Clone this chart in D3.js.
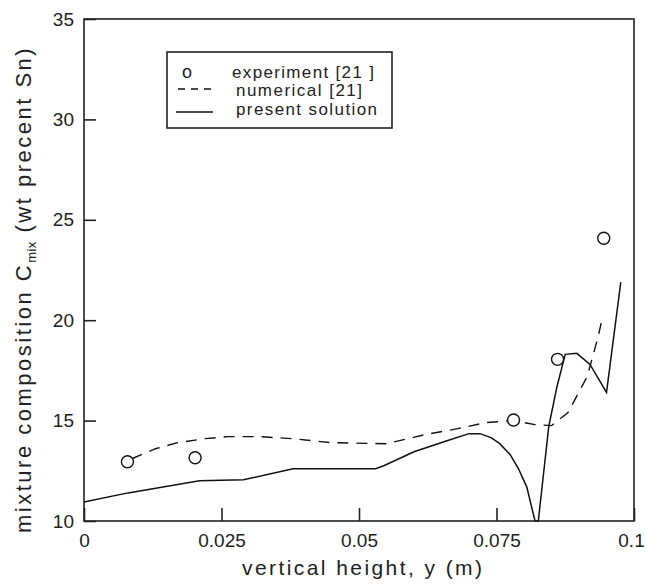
<!DOCTYPE html>
<html>
<head>
<meta charset="utf-8">
<script src="https://cdn.jsdelivr.net/npm/d3@7"></script>
<style>
  body { margin: 0; background: #fff; }
  text { font-family: "Liberation Sans", Arial, sans-serif; fill: #222; }
</style>
</head>
<body>
<div class="chart"></div>
<script>
// data
var experimentX = [0.0079, 0.0202, 0.0781, 0.0861, 0.0945];
var experimentC = [12.95, 13.15, 15.03, 18.05, 24.08];

var numericalX = [0.0087, 0.013, 0.017, 0.022, 0.026, 0.032, 0.038, 0.045, 0.055, 0.062, 0.068, 0.073, 0.078, 0.082, 0.085, 0.088, 0.0915, 0.0935, 0.0943];
var numericalC = [13.1, 13.6, 13.9, 14.1, 14.2, 14.2, 14.1, 13.9, 13.85, 14.3, 14.6, 14.9, 15.0, 14.8, 14.75, 15.4, 17.2, 19.2, 20.2];

var presentX = [0, 0.008, 0.021, 0.029, 0.038, 0.053, 0.0545, 0.06, 0.066, 0.07, 0.072, 0.074, 0.0756, 0.0775, 0.079, 0.0805, 0.082, 0.0826, 0.0845, 0.086, 0.0875, 0.0896, 0.092, 0.095, 0.0976];
var presentC = [10.95, 11.4, 12.0, 12.05, 12.6, 12.6, 12.75, 13.45, 14.0, 14.35, 14.35, 14.15, 13.85, 13.3, 12.6, 11.7, 10.0, 10.0, 14.7, 16.7, 18.3, 18.35, 17.8, 16.4, 21.9];

var xTicks = [0, 0.025, 0.05, 0.075, 0.1];
var xTickLabels = ["0", "0.025", "0.05", "0.075", "0.1"];
var yTicks = [10, 15, 20, 25, 30, 35];

var legendLabels = ["experiment [21 ]", "numerical [21]", "present solution"];

// svg container
var svgWidth = 646;
var svgHeight = 584;
var margin = { top: 19, right: 12, bottom: 63, left: 84 };
var width = svgWidth - margin.left - margin.right;
var height = svgHeight - margin.top - margin.bottom;

var svg = d3.select(".chart")
  .append("svg")
  .attr("width", svgWidth)
  .attr("height", svgHeight);

var chartGroup = svg.append("g")
  .attr("transform", `translate(${margin.left}, ${margin.top})`);

var xScale = d3.scaleLinear().domain([0, 0.1]).range([0, width]);
var yScale = d3.scaleLinear().domain([10, 35]).range([height, 0]);

// frame
chartGroup.append("rect")
  .attr("width", width)
  .attr("height", height)
  .attr("fill", "none")
  .attr("stroke", "#222")
  .attr("stroke-width", 1.6);

// axes with inward ticks
var bottomAxis = d3.axisBottom(xScale)
  .tickValues(xTicks)
  .tickFormat((d, i) => xTickLabels[i])
  .tickSizeInner(-13)
  .tickSizeOuter(0);

var leftAxis = d3.axisLeft(yScale)
  .tickValues(yTicks)
  .tickSizeInner(-12)
  .tickSizeOuter(0);

var xAxis = chartGroup.append("g")
  .attr("transform", `translate(0, ${height})`)
  .call(bottomAxis);

var yAxis = chartGroup.append("g")
  .call(leftAxis);

[xAxis, yAxis].forEach(function(ax) {
  ax.select(".domain").remove();
  ax.selectAll(".tick line").attr("stroke", "#222").attr("stroke-width", 1.6);
  ax.selectAll(".tick text")
    .style("font-family", "'Liberation Sans', Arial, sans-serif")
    .style("font-size", "19px")
    .attr("fill", "#222");
});
xAxis.selectAll(".tick text").attr("dy", "0.35em").attr("y", 19);
// last label sits at the very edge, nudge it in a little
xAxis.selectAll(".tick text").filter(d => d === 0.1).attr("x", -3);
yAxis.selectAll(".tick text").attr("x", -10);

// lines
var numericalData = numericalX.map((x, i) => [x, numericalC[i]]);
var presentData = presentX.map((x, i) => [x, presentC[i]]);

var line = d3.line()
  .x(d => xScale(d[0]))
  .y(d => yScale(d[1]));

chartGroup.append("path")
  .datum(numericalData)
  .attr("d", line)
  .attr("fill", "none")
  .attr("stroke", "#111")
  .attr("stroke-width", 1.4)
  .attr("stroke-dasharray", "11,8");

chartGroup.append("path")
  .datum(presentData)
  .attr("d", line)
  .attr("fill", "none")
  .attr("stroke", "#111")
  .attr("stroke-width", 1.5);

// experiment circles
chartGroup.selectAll("circle")
  .data(experimentX)
  .enter()
  .append("circle")
  .attr("cx", d => xScale(d))
  .attr("cy", (d, i) => yScale(experimentC[i]))
  .attr("r", 6)
  .attr("fill", "#fff")
  .attr("stroke", "#111")
  .attr("stroke-width", 1.4);

// legend
var legend = svg.append("g");
legend.append("rect")
  .attr("x", 167)
  .attr("y", 52)
  .attr("width", 225)
  .attr("height", 76)
  .attr("fill", "#fff")
  .attr("stroke", "#222")
  .attr("stroke-width", 1.6);

legend.append("text")
  .attr("x", 187)
  .attr("y", 78)
  .attr("text-anchor", "middle")
  .style("font-size", "18px")
  .text("o");

legend.append("line")
  .attr("x1", 178).attr("x2", 213)
  .attr("y1", 89).attr("y2", 89)
  .attr("stroke", "#111")
  .attr("stroke-width", 1.4)
  .attr("stroke-dasharray", "7,6");

legend.append("line")
  .attr("x1", 176).attr("x2", 213)
  .attr("y1", 112).attr("y2", 112)
  .attr("stroke", "#111")
  .attr("stroke-width", 1.5);

var legendX = [232, 236, 236];
var legendY = [78, 96, 115];
var legendW = [142, 126, 141];
legend.selectAll(".leg")
  .data(legendLabels)
  .enter()
  .append("text")
  .attr("class", "leg")
  .attr("x", (d, i) => legendX[i])
  .attr("y", (d, i) => legendY[i])
  .attr("textLength", (d, i) => legendW[i])
  .attr("lengthAdjust", "spacing")
  .style("font-size", "17px")
  .text(d => d);

// axis labels
svg.append("text")
  .attr("x", 242)
  .attr("y", 575)
  .attr("textLength", 240)
  .attr("lengthAdjust", "spacing")
  .style("font-size", "21px")
  .text("vertical height, y (m)");

var yLabel = svg.append("text")
  .attr("transform", "translate(31, 533) rotate(-90)")
  .attr("x", 0)
  .attr("y", 0)
  .style("font-size", "22px")
  .style("letter-spacing", "2.5px");
yLabel.append("tspan").text("mixture composition C");
yLabel.append("tspan").attr("dy", 5).style("font-size", "13px").style("letter-spacing", "0.5px").text("mix");
yLabel.append("tspan").attr("dy", -5).text(" (wt precent Sn)");
</script>
</body>
</html>
